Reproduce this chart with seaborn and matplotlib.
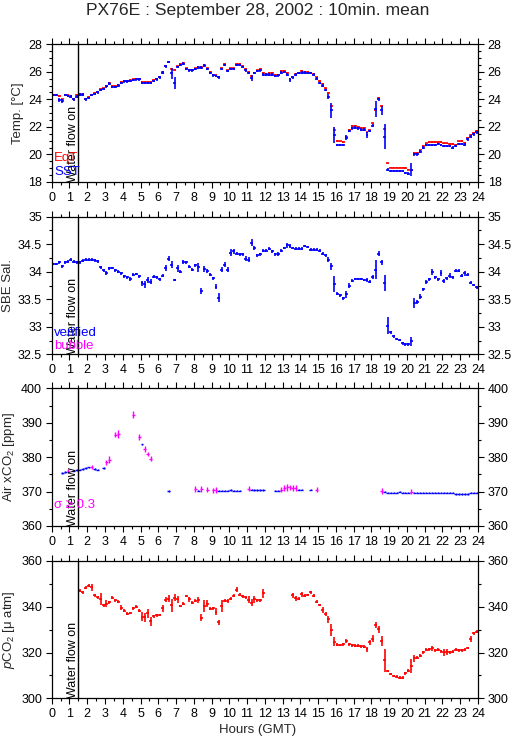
import numpy as np
import matplotlib
matplotlib.use("Agg")
import matplotlib.pyplot as plt
import seaborn as sns
from matplotlib.ticker import MultipleLocator, FuncFormatter

nan = np.nan
# ---------------- data (10-minute means, bin centres in hours) ----------------
hours_grid = np.arange(144) / 6 + 1 / 12

sst = [24.3, 24.3, 23.95, 23.9, 24.3, 24.25,
       24.2, 24.0, 24.2, 24.35, 24.35, 24.0,
       24.1, 24.3, 24.4, 24.5, 24.7, 24.75,
       24.95, 25.15, 24.9, 24.9, 25.0, 25.2,
       25.3, 25.3, 25.35, 25.4, 25.45, 25.45,
       25.2, 25.2, 25.2, 25.2, 25.35, 25.45,
       25.6, 25.95, 26.4, 26.7, 25.9, 25.2,
       26.35, 26.5, 26.6, 26.2, 26.1, 26.1,
       26.2, 26.3, 26.3, 26.45, 26.2, 25.9,
       25.75, 25.7, 25.6, 26.2, 26.5, 26.05,
       26.2, 26.2, 26.5, 26.5, 26.35, 26.1,
       25.9, 25.55, 25.9, 26.05, 26.1, 25.8,
       25.8, 25.8, 25.8, 25.7, 25.75, 25.95,
       26.0, 25.8, 25.4, 25.6, 25.8, 25.9,
       25.95, 25.95, 25.9, 25.9, 25.8, 25.5,
       25.2, 25.0, 24.7, 24.2, 23.2, 21.4,
       20.7, 20.7, 20.7, 21.2, 21.7, 21.9,
       21.95, 21.9, 21.8, 21.8, 21.4, 21.7,
       22.1, 23.3, 24.0, 23.2, 21.3, 18.9,
       18.8, 18.8, 18.8, 18.8, 18.8, 18.65,
       18.6, 18.9, 20.0, 20.0, 20.2, 20.5,
       20.7, 20.7, 20.7, 20.7, 20.75, 20.7,
       20.6, 20.6, 20.6, 20.5, 20.6, 20.77,
       20.77, 20.7, 21.1, 21.3, 21.45, 21.6]

eqt = [24.35, 24.3, 24.25, 24.0, 24.35, 24.3,
       24.25, 24.05, 24.3, 24.4, 24.4, 24.05,
       24.15, 24.35, 24.45, 24.55, 24.75, 24.8,
       25.0, 25.2, 24.95, 24.95, 25.05, 25.25,
       25.35, 25.35, 25.4, 25.45, 25.5, 25.5,
       25.25, 25.25, 25.25, 25.25, 25.4, 25.5,
       25.65, 26.0, 26.45, 26.75, 26.2, 26.15,
       26.4, 26.55, 26.65, 26.25, 26.15, 26.15,
       26.25, 26.35, 26.35, 26.5, 26.25, 26.0,
       25.8, 25.75, 25.65, 26.25, 26.55, 26.1,
       26.25, 26.25, 26.55, 26.55, 26.45, 26.2,
       26.0, 25.7, 25.95, 26.1, 26.2, 25.9,
       25.85, 25.9, 25.9, 25.75, 25.8, 26.05,
       26.05, 25.9, 25.5, 25.65, 25.85, 25.95,
       26.05, 26.0, 26.0, 25.95, 25.85, 25.6,
       25.35, 25.15, 24.8, 24.45, 23.5, 21.8,
       21.0, 20.95, 20.9, 21.3, 21.8, 22.05,
       22.1, 22.0, 21.9, 21.9, 21.6, 21.75,
       22.25, 23.2, 24.1, 23.5, 21.85, 19.35,
       19.05, 19.05, 19.05, 19.05, 19.05, 19.0,
       18.9, 18.9, 20.1, 20.1, 20.3, 20.6,
       20.8, 20.9, 20.9, 20.9, 20.9, 20.9,
       20.8, 20.8, 20.75, 20.75, 20.7, 20.95,
       21.0, 20.85, 21.2, 21.4, 21.55, 21.7]

sst_big_err_t = [0.42, 0.58, 1.25, 6.75, 6.92, 11.25, 13.42, 15.58, 15.75, 15.92,
                 16.58, 17.75, 18.25, 18.58, 18.75, 20.25, 23.25]
sst_big_err = [0.15, 0.15, 0.12, 0.4, 0.45, 0.2, 0.15, 0.2, 0.55, 0.6,
               0.18, 0.2, 0.6, 0.3, 0.9, 0.45, 0.12]

sal = [34.14, 34.14, 34.17, 34.10, 34.17, 34.18,
       34.22, 34.18, 34.17, 34.17, 34.20, 34.22,
       34.22, 34.22, 34.21, 34.19, 34.08, 34.03,
       33.98, 34.06, 34.07, 34.03, 34.00, 33.97,
       33.92, 33.90, 33.87, 33.95, 33.96, 33.92,
       33.79, 33.77, 33.85, 33.82, 33.91, 33.90,
       33.86, 33.93, 34.07, 34.24, 34.13, 33.85,
       34.06, 34.00, 34.18, 34.17, 34.09, 34.04,
       34.12, 34.08, 33.65, 34.05, 34.01, 33.95,
       33.88, 33.73, 33.53, 34.04, 34.13, 34.04,
       34.35, 34.37, 34.33, 34.32, 34.32, 34.24,
       34.22, 34.53, 34.43, 34.30, 34.32, 34.38,
       34.38, 34.42, 34.37, 34.32, 34.32, 34.38,
       34.43, 34.48, 34.47, 34.43, 34.42, 34.42,
       34.42, 34.47, 34.45, 34.40, 34.40, 34.40,
       34.38, 34.33, 34.30, 34.22, 34.10, 33.78,
       33.60, 33.57, 33.52, 33.59, 33.75, 33.84,
       33.87, 33.87, 33.87, 33.85, 33.85, 33.82,
       33.91, 34.04, 34.33, 34.17, 33.80, 33.02,
       32.90, 32.83, 32.78, 32.76, 32.70, 32.68,
       32.68, 32.74, 33.44, 33.45, 33.55, 33.68,
       33.81, 33.86, 34.00, 33.90, 33.86, 33.98,
       33.83, 33.88, 33.93, 33.90, 34.02, 34.02,
       33.93, 33.97, 33.95, 33.80, 33.76, 33.72]

sal_big_err_t = [0.42, 3.08, 4.42, 5.08, 5.25, 5.42, 5.58, 6.42, 6.58, 6.75, 7.08, 7.42,
                 8.25, 8.42, 8.58, 8.75, 9.25, 9.42, 9.58, 9.75, 9.92, 10.08, 10.25,
                 10.92, 11.08, 11.25, 11.42, 12.75, 13.25, 13.42, 15.58, 15.75, 15.92,
                 16.58, 16.75, 17.75, 18.08, 18.25, 18.42, 18.58, 18.75, 18.92, 20.25,
                 20.42, 20.58, 20.75, 21.08, 21.42, 21.92, 22.08, 22.42, 23.25]
sal_big_err = [0.03, 0.04, 0.04, 0.05, 0.06, 0.06, 0.04, 0.06, 0.04, 0.06, 0.06, 0.04,
               0.08, 0.06, 0.06, 0.04, 0.05, 0.08, 0.04, 0.04, 0.04, 0.06, 0.04,
               0.04, 0.05, 0.06, 0.04, 0.04, 0.04, 0.04, 0.04, 0.06, 0.14,
               0.07, 0.04, 0.04, 0.04, 0.17, 0.04, 0.04, 0.15, 0.15, 0.08,
               0.09, 0.04, 0.04, 0.04, 0.05, 0.06, 0.04, 0.04, 0.04]

air_min = [35, 45, 55, 75, 85, 95, 105, 115, 125, 135,
           145, 155, 175, 185, 195, 215, 225, 275, 295, 305,
           315, 325, 335, 395, 485, 495, 505, 525, 545, 555,
           565, 575, 585, 595, 605, 615, 625, 635, 665, 675,
           685, 695, 705, 715, 755, 765, 775, 785, 795, 805,
           815, 825, 835, 845, 875, 895, 1115, 1125, 1135, 1145,
           1155, 1165, 1175, 1185, 1195, 1205, 1215, 1225, 1235, 1245,
           1255, 1265, 1275, 1285, 1295, 1305, 1315, 1325, 1335, 1345,
           1355, 1365, 1375, 1385, 1395, 1405, 1415, 1425, 1435]
air_xco2 = [375.4, 375.6, 376.0, 376.1, 376.3, 376.4, 376.6, 376.8, 377.0, 377.2,
            376.5, 376.4, 376.8, 378.5, 379.3, 386.5, 386.7, 392.3, 385.8, 383.7,
            382.3, 380.9, 379.6, 370.2, 370.7, 370.3, 370.7, 370.6, 370.4, 370.5,
            370.3, 370.3, 370.3, 370.3, 370.4, 370.3, 370.3, 370.3, 370.8, 370.6,
            370.5, 370.5, 370.4, 370.4, 370.3, 370.3, 370.6, 371.0, 371.2, 371.2,
            371.0, 371.1, 370.6, 370.6, 370.6, 370.6, 370.2, 370.0, 369.7, 369.7,
            369.7, 369.7, 370.0, 369.7, 369.7, 369.7, 370.0, 369.7, 369.7, 369.7,
            369.7, 369.7, 369.7, 369.7, 369.7, 369.7, 369.7, 369.7, 369.7, 369.7,
            369.7, 369.4, 369.4, 369.4, 369.4, 369.4, 369.7, 369.7, 369.7]
air_sigma = [0.05, 0.1, 0.4, 0.1, 0.05, 0.05, 0.05, 0.05, 0.1, 0.3,
             0.05, 0.1, 0.2, 0.4, 0.6, 0.4, 0.8, 0.7, 0.6, 0.1,
             0.6, 0.3, 0.5, 0.1, 0.6, 0.1, 0.5, 0.4, 0.4, 0.6,
             0.02, 0.02, 0.02, 0.02, 0.1, 0.02, 0.02, 0.02, 0.4, 0.1,
             0.05, 0.05, 0.05, 0.05, 0.05, 0.05, 0.5, 0.6, 0.6, 0.5,
             0.5, 0.5, 0.1, 0.1, 0.1, 0.4, 0.5, 0.1, 0.02, 0.02,
             0.02, 0.02, 0.2, 0.02, 0.02, 0.02, 0.5, 0.02, 0.02, 0.02,
             0.02, 0.02, 0.02, 0.02, 0.02, 0.02, 0.02, 0.02, 0.02, 0.02,
             0.02, 0.02, 0.02, 0.02, 0.02, 0.02, 0.02, 0.02, 0.02]

pco2 = [nan, nan, nan, nan, nan, nan,
        nan, nan, nan, 347.0, 346.3, 348.3,
        349.1, 348.4, 345.0, 344.0, 343.3, 340.5,
        341.3, 341.9, 343.9, 342.8, 342.2, 339.5,
        338.3, 336.9, 337.2, 339.2, 340.0, 338.2,
        335.6, 335.4, 337.1, 333.6, 335.8, 336.2,
        336.3, 339.3, 343.0, 343.5, 340.5, 343.9,
        343.2, 340.3, 341.2, 344.6, 343.1, 341.7,
        342.5, 342.8, 335.2, 340.2, 341.3, 339.1,
        339.3, 337.7, 333.1, 340.3, 342.5, 342.4,
        343.5, 344.7, 347.4, 345.2, 344.5, 344.0,
        343.0, 341.7, 343.1, 342.8, 342.8, 345.8,
        nan, nan, nan, nan, nan, nan,
        nan, nan, nan, 344.9, 343.6, 343.5,
        345.3, 344.7, 345.1, 346.2, 344.7, 342.1,
        340.7, 338.5, 336.8, 334.4, 329.8, 324.7,
        323.4, 323.3, 323.5, 325.0, 323.6, 323.2,
        322.9, 322.9, 322.7, 322.6, 321.4, 324.4,
        326.1, 332.0, 330.1, 325.0, 316.6, 311.9,
        310.6, 309.8, 309.5, 309.1, 309.0, 310.9,
        312.1, 314.1, 317.4, 317.8, 318.6, 320.1,
        321.2, 321.4, 321.8, 321.0, 321.3, 320.5,
        320.1, 320.3, 320.1, 320.3, 321.3, 321.0,
        321.0, 321.3, 322.0, 325.8, 328.3, 329.0]

pco2_big_err_t = [2.25, 2.75, 3.08, 3.92, 5.08, 5.25, 5.42, 5.58, 6.25, 6.42, 6.58, 6.75,
                  6.92, 7.08, 7.75, 8.25, 8.42, 8.58, 8.75, 9.25, 9.42, 9.58, 9.92, 10.42,
                  11.08, 11.25, 11.42, 11.92, 13.58, 13.75, 14.08, 14.58, 15.25, 15.42,
                  15.58, 15.75, 15.92, 16.58, 17.75, 17.92, 18.08, 18.25, 18.42, 18.58,
                  18.75, 20.25, 20.42, 21.42, 22.08, 22.25, 23.58, 23.75]
pco2_big_err = [1.5, 2.5, 1.5, 1.0, 2.0, 2.0, 2.0, 2.0, 1.5, 1.2, 1.5, 3.0,
                1.5, 1.5, 1.0, 1.2, 1.5, 2.5, 1.5, 1.5, 1.2, 2.5, 1.0, 1.2,
                1.5, 1.5, 1.5, 2.0, 1.0, 1.0, 1.0, 0.8, 1.2, 1.0,
                1.5, 2.5, 2.0, 1.0, 1.0, 1.2, 1.5, 1.5, 1.5, 2.0,
                5.0, 3.0, 1.5, 1.0, 1.5, 1.2, 1.2, 0.8]

water_flow_on = 1.5

# ---------------- style ----------------
sns.set_theme(style="ticks")
plt.rcParams['font.family'] = ['Liberation Sans', 'DejaVu Sans']
plt.rcParams['mathtext.fontset'] = 'custom'
plt.rcParams['mathtext.rm'] = 'Liberation Sans'
plt.rcParams['mathtext.it'] = 'Liberation Sans:italic'
plt.rcParams['axes.linewidth'] = 0.9
plt.rcParams['axes.edgecolor'] = 'black'

RED, BLUE, MAG = '#ff0000', '#0000ff', '#ff00ff'
HALF = 1 / 12


def err_array(default, ts, es):
    e = np.full(144, default)
    for t, v in zip(ts, es):
        e[int(round((t - HALF) * 6))] = v
    return e


def draw(ax, x, y, yerr, color, lw=1.2):
    ax.errorbar(x, y, xerr=HALF, yerr=yerr, fmt='none', ecolor=color,
                elinewidth=lw, capsize=0)


def style(ax, ylim, major, minor, ylabel):
    ax.set_xlim(0, 24)
    ax.set_ylim(*ylim)
    ax.xaxis.set_major_locator(MultipleLocator(1))
    ax.xaxis.set_minor_locator(MultipleLocator(0.5))
    ax.yaxis.set_major_locator(MultipleLocator(major))
    ax.yaxis.set_minor_locator(MultipleLocator(minor))
    ax.yaxis.set_major_formatter(FuncFormatter(lambda v, p: f'{v:g}'))
    ax.tick_params(which='both', direction='out', top=True, right=True,
                   labelright=True, labelsize=9, width=0.8, color='black',
                   labelcolor='black', pad=2.5)
    ax.tick_params(which='major', length=4.5)
    ax.tick_params(which='minor', length=2.5)
    ax.set_ylabel(ylabel, fontsize=9.5, labelpad=3)
    ax.grid(False)
    ax.axvline(water_flow_on, color='black', lw=1.0)
    ax.text(water_flow_on + 0.02, ylim[0], 'Water flow on', rotation=90,
            ha='right', va='bottom', fontsize=9, color='black')


fig = plt.figure(figsize=(5.15, 7.39), dpi=100)
L, W = 51.7 / 515, (478 - 51.7) / 515
tops = [44.3, 216.7, 388.3, 560.7]
H = 137.7
axes = [fig.add_axes([L, 1 - (t + H) / 739, W, H / 739]) for t in tops]

# Panel 1: temperatures
ax = axes[0]
draw(ax, hours_grid, eqt, 0.06, RED)
draw(ax, hours_grid, sst, err_array(0.09, sst_big_err_t, sst_big_err), BLUE)
style(ax, (18, 28), 2, 0.5, 'Temp. [°C]')
ax.text(0.15, 19.75, 'EqT', color=RED, fontsize=9.5, va='center')
ax.text(0.15, 18.72, 'SST', color=BLUE, fontsize=9.5, va='center')

# Panel 2: salinity
ax = axes[1]
draw(ax, hours_grid, sal, err_array(0.025, sal_big_err_t, sal_big_err), BLUE)
style(ax, (32.5, 35), 0.5, 0.25, 'SBE Sal.')
ax.text(0.15, 32.89, 'verified', color=BLUE, fontsize=9.5, va='center')
ax.text(0.15, 32.66, 'bubble', color=MAG, fontsize=9.5, va='center')

# Panel 3: air xCO2 (magenta where sigma >= 0.3)
ax = axes[2]
air_t = np.array(air_min) / 60
air_v = np.array(air_xco2)
air_s = np.array(air_sigma)
hi = air_s >= 0.3
draw(ax, air_t[~hi], air_v[~hi], np.maximum(air_s[~hi], 0.25), BLUE, lw=1.0)
draw(ax, air_t[hi], air_v[hi], air_s[hi] + 0.3, MAG, lw=1.0)
style(ax, (360, 400), 10, 5, 'Air xCO$_2$ [ppm]')
ax.text(0.15, 366.1, 'σ ≥ 0.3', color=MAG, fontsize=9.5, va='center')

# Panel 4: pCO2
ax = axes[3]
draw(ax, hours_grid, pco2, err_array(0.6, pco2_big_err_t, pco2_big_err), RED)
style(ax, (300, 360), 20, 10, '$p$CO$_2$ [μ atm]')

fig.text(0.5, 1 - 11 / 739, 'PX76E : September 28, 2002 : 10min. mean',
         ha='center', va='center', fontsize=12.6)
fig.text(0.5, 1 - 730 / 739, 'Hours (GMT)', ha='center', va='center', fontsize=9.5)

fig.savefig('out.png', dpi=100, facecolor='white')
